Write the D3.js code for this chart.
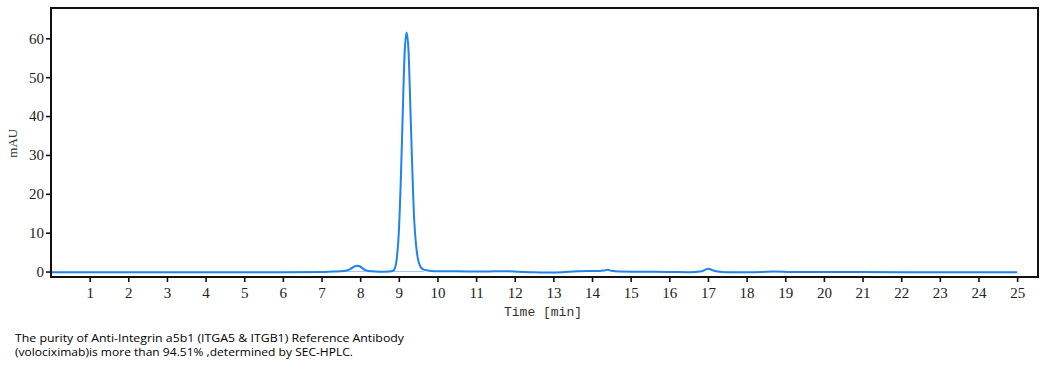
<!DOCTYPE html>
<html>
<head>
<meta charset="utf-8">
<script src="https://cdn.jsdelivr.net/npm/d3@7"></script>
<style>
    body { margin: 0; background: #fff; }
    svg { display: block; }
</style>
</head>
<body>
<div id="chart"></div>
<script>
// chromatogram: retention time (min) and absorbance (mAU)
var timeMin = [0, 2, 4, 6, 7.0, 7.3, 7.5, 7.65, 7.75, 7.85, 7.92, 8.0, 8.08, 8.17, 8.3, 8.5, 8.75, 8.85,
    8.9, 8.95, 9.0, 9.05, 9.1, 9.15, 9.2, 9.25, 9.3, 9.35, 9.4, 9.45, 9.5, 9.55, 9.62, 9.75, 9.95,
    10.5, 11.2, 11.8, 12.1, 12.5, 12.8, 13.2, 13.6, 13.9, 14.2, 14.32, 14.4, 14.5, 14.7, 15.2, 16.0,
    16.5, 16.85, 16.95, 17.02, 17.1, 17.25, 17.5, 18.0, 18.4, 18.7, 19.2, 20, 22, 25];
var signalMAU = [-0.15, -0.15, -0.15, -0.15, -0.1, 0.0, 0.05, 0.25, 0.7, 1.3, 1.5, 1.3, 0.7, 0.25, 0.05, -0.05, 0.0, 0.2,
    0.9, 3.5, 10, 23, 40, 56, 61.5, 57, 42, 26, 13, 6.5, 3.0, 1.5, 0.6, 0.25, 0.1,
    0.05, 0.0, 0.1, -0.05, -0.2, -0.25, -0.15, 0.05, 0.15, 0.15, 0.3, 0.45, 0.2, 0.0, -0.05, -0.1,
    -0.15, 0.1, 0.55, 0.75, 0.4, 0.0, -0.15, -0.15, -0.1, 0.0, -0.1, -0.1, -0.15, -0.15];

// integration baselines drawn under the peaks
var baseFrom = [7.6, 8.86];
var baseTo = [8.25, 9.65];

var xTicks = d3.range(1, 26);
var yTicks = [0, 10, 20, 30, 40, 50, 60];
var caption = ["The purity of Anti-Integrin a5b1 (ITGA5 & ITGB1) Reference Antibody",
    "(volociximab)is more than 94.51% ,determined by SEC-HPLC."];

var totalW = 1058, totalH = 371;
var margin = {top: 8, right: 20, bottom: 94, left: 51};
var width = totalW - margin.left - margin.right,
    height = totalH - margin.top - margin.bottom;

var svg = d3.select("#chart").append("svg")
    .attr("width", totalW)
    .attr("height", totalH);

var g = svg.append("g")
    .attr("transform", "translate(" + margin.left + "," + margin.top + ")");

var xScale = d3.scaleLinear().domain([0, 25.54]).range([0, width]);
var yScale = d3.scaleLinear().domain([-1.4, 67.8]).range([height, 0]);

// axes
var xAxis = g.append("g")
    .attr("transform", "translate(0," + height + ")")
    .call(d3.axisBottom(xScale).tickValues(xTicks).tickSize(5).tickPadding(5).tickFormat(d3.format("d")));

var yAxis = g.append("g")
    .call(d3.axisLeft(yScale).tickValues(yTicks).tickSize(5).tickPadding(2).tickFormat(d3.format("d")));

[xAxis, yAxis].forEach(function (ax) {
    ax.attr("font-family", null).attr("font-size", null);
    ax.select(".domain").remove();
    ax.selectAll("line").attr("stroke", "#111").attr("stroke-width", 1.6);
    ax.selectAll("text")
        .attr("fill", "#222")
        .style("font-family", "'Liberation Serif', 'DejaVu Serif', serif")
        .style("font-size", "15px");
});

// integration baselines
g.selectAll(".baseLine")
    .data(baseFrom)
    .enter()
    .append("line")
    .attr("class", "baseLine")
    .attr("x1", function (d) { return xScale(d); })
    .attr("x2", function (d, i) { return xScale(baseTo[i]); })
    .attr("y1", yScale(0))
    .attr("y2", yScale(0))
    .attr("stroke", "#9cc6f2")
    .attr("stroke-width", 1);

// trace
var points = timeMin.map(function (t, i) { return [t, signalMAU[i]]; });
var line = d3.line()
    .x(function (d) { return xScale(d[0]); })
    .y(function (d) { return yScale(d[1]); })
    .curve(d3.curveMonotoneX);

g.append("path")
    .datum(points)
    .attr("fill", "none")
    .attr("stroke", "#1f82ee")
    .attr("stroke-width", 2)
    .attr("stroke-linejoin", "round")
    .attr("d", line);

// frame
g.append("rect")
    .attr("width", width)
    .attr("height", height)
    .attr("fill", "none")
    .attr("stroke", "#111")
    .attr("stroke-width", 2);

// axis titles
svg.append("text")
    .attr("transform", "translate(17," + (margin.top + yScale(33)) + ") rotate(-90)")
    .attr("text-anchor", "middle")
    .style("font-family", "'Liberation Serif', serif")
    .style("font-size", "13px")
    .attr("fill", "#333")
    .text("mAU");

svg.append("text")
    .attr("x", 543)
    .attr("y", 316)
    .attr("text-anchor", "middle")
    .style("font-family", "'Liberation Mono', 'DejaVu Sans Mono', monospace")
    .style("font-size", "13px")
    .attr("fill", "#333")
    .text("Time [min]");

// caption
svg.selectAll(".caption")
    .data(caption)
    .enter()
    .append("text")
    .attr("class", "caption")
    .attr("x", 15)
    .attr("y", function (d, i) { return 342 + i * 14; })
    .attr("textLength", function (d, i) { return i == 0 ? 389 : 338; })
    .attr("lengthAdjust", "spacingAndGlyphs")
    .style("font-family", "'Open Sans', 'Noto Sans', sans-serif")
    .style("font-size", "11.5px")
    .attr("fill", "#000")
    .text(function (d) { return d; });
</script>
</body>
</html>
